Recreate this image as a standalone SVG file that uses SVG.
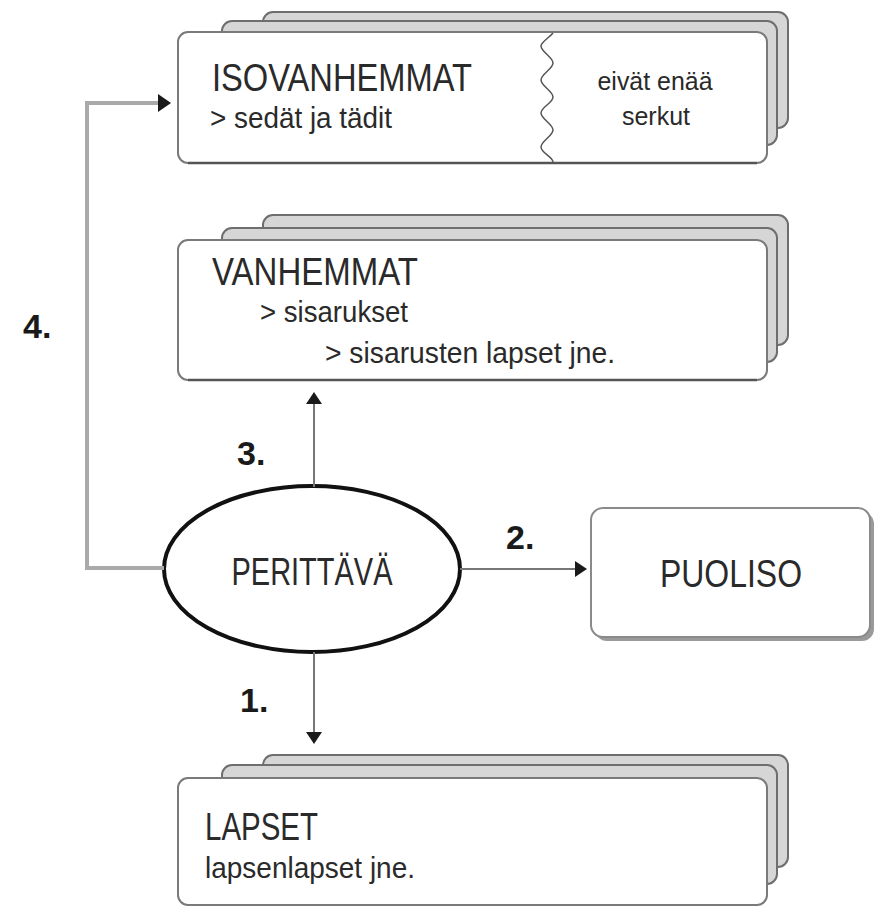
<svg xmlns="http://www.w3.org/2000/svg" width="879" height="908" viewBox="0 0 879 908">
<style>
.layer{fill:#d6d6d6;stroke:#6e6e6e;stroke-width:2}
.front{fill:#fff;stroke:#7a7a7a;stroke-width:2}
.edge{stroke:#555;stroke-width:2.5;fill:none}
.t{font-family:"Liberation Sans",Arial,sans-serif;fill:#2a2a2a}
.h{font-size:38px}
.s{font-size:30px}
.n{font-size:26px}
.lbl{font-family:"Liberation Sans",Arial,sans-serif;font-weight:bold;font-size:34px;fill:#1a1a1a}
.con{stroke:#777;stroke-width:2;fill:none}
.con4{stroke:#aaa;stroke-width:4;fill:none}
.head{fill:#1a1a1a}
</style>
<rect width="879" height="908" fill="#fff"/>

<g id="isovanhemmat">
<rect class="layer" x="263" y="12" width="525" height="116" rx="10"/>
<rect class="layer" x="222" y="21" width="555" height="124" rx="10"/>
<rect class="front" x="178" y="32" width="589" height="131" rx="10"/>
<line class="edge" x1="188" y1="163" x2="757" y2="163"/>
<path d="M553,33 C549,38 541,42 541,46 C541,52 553,57 553,63 C553,69 541,74 541,80 C541,86 553,91 553,97 C553,103 541,107 541,113 C541,119 553,124 553,130 C553,136 541,141 541,147 C541,153 553,157 553,162" fill="none" stroke="#555" stroke-width="1.5"/>
<text class="t h" x="212" y="91" textLength="260" lengthAdjust="spacingAndGlyphs">ISOVANHEMMAT</text>
<text class="t s" x="210" y="128" textLength="182" lengthAdjust="spacingAndGlyphs">&gt; sedät ja tädit</text>
<text class="t n" x="655" y="90" text-anchor="middle" textLength="115" lengthAdjust="spacingAndGlyphs">eivät enää</text>
<text class="t n" x="656" y="125" text-anchor="middle" textLength="68" lengthAdjust="spacingAndGlyphs">serkut</text>
</g>

<g id="vanhemmat">
<rect class="layer" x="263" y="215" width="525" height="130" rx="10"/>
<rect class="layer" x="222" y="228" width="555" height="134" rx="10"/>
<rect class="front" x="178" y="240" width="589" height="140" rx="10"/>
<line class="edge" x1="188" y1="380" x2="757" y2="380"/>
<text class="t h" x="212" y="285" textLength="206" lengthAdjust="spacingAndGlyphs">VANHEMMAT</text>
<text class="t s" x="260" y="322" textLength="148" lengthAdjust="spacingAndGlyphs">&gt; sisarukset</text>
<text class="t s" x="325" y="363" textLength="290" lengthAdjust="spacingAndGlyphs">&gt; sisarusten lapset jne.</text>
</g>

<g id="perittava">
<ellipse cx="312" cy="569" rx="148" ry="83" fill="#fff" stroke="#111" stroke-width="4"/>
<text class="t h" x="312" y="585" text-anchor="middle" textLength="161" lengthAdjust="spacingAndGlyphs">PERITTÄVÄ</text>
</g>

<g id="puoliso">
<rect x="595" y="512" width="279" height="129" rx="12" fill="#9a9a9a"/>
<rect x="591" y="508" width="279" height="129" rx="12" fill="#fff" stroke="#8a8a8a" stroke-width="2"/>
<text class="t h" x="731" y="587" text-anchor="middle" textLength="142" lengthAdjust="spacingAndGlyphs">PUOLISO</text>
</g>

<g id="lapset">
<rect class="layer" x="263" y="755" width="525" height="112" rx="10"/>
<rect class="layer" x="222" y="765" width="555" height="119" rx="10"/>
<rect class="front" x="178" y="778" width="589" height="127" rx="10"/>
<text class="t h" x="205" y="840" textLength="113" lengthAdjust="spacingAndGlyphs">LAPSET</text>
<text class="t s" x="205" y="878" textLength="210" lengthAdjust="spacingAndGlyphs">lapsenlapset jne.</text>
</g>

<g id="connectors">
<line class="con" x1="314" y1="487" x2="314" y2="403"/>
<polygon class="head" points="314,392 306,404 322,404"/>
<line class="con" x1="460" y1="569" x2="575" y2="569"/>
<polygon class="head" points="587,569 575,561 575,577"/>
<line class="con" x1="314" y1="652" x2="314" y2="733"/>
<polygon class="head" points="314,744 306,732 322,732"/>
<polyline class="con4" points="164,568 87,568 87,103 158,103"/>
<polygon class="head" points="171,103 158,94 158,112"/>
<text class="lbl" x="23" y="338">4.</text>
<text class="lbl" x="237" y="465">3.</text>
<text class="lbl" x="506" y="549">2.</text>
<text class="lbl" x="240" y="712">1.</text>
</g>
</svg>
